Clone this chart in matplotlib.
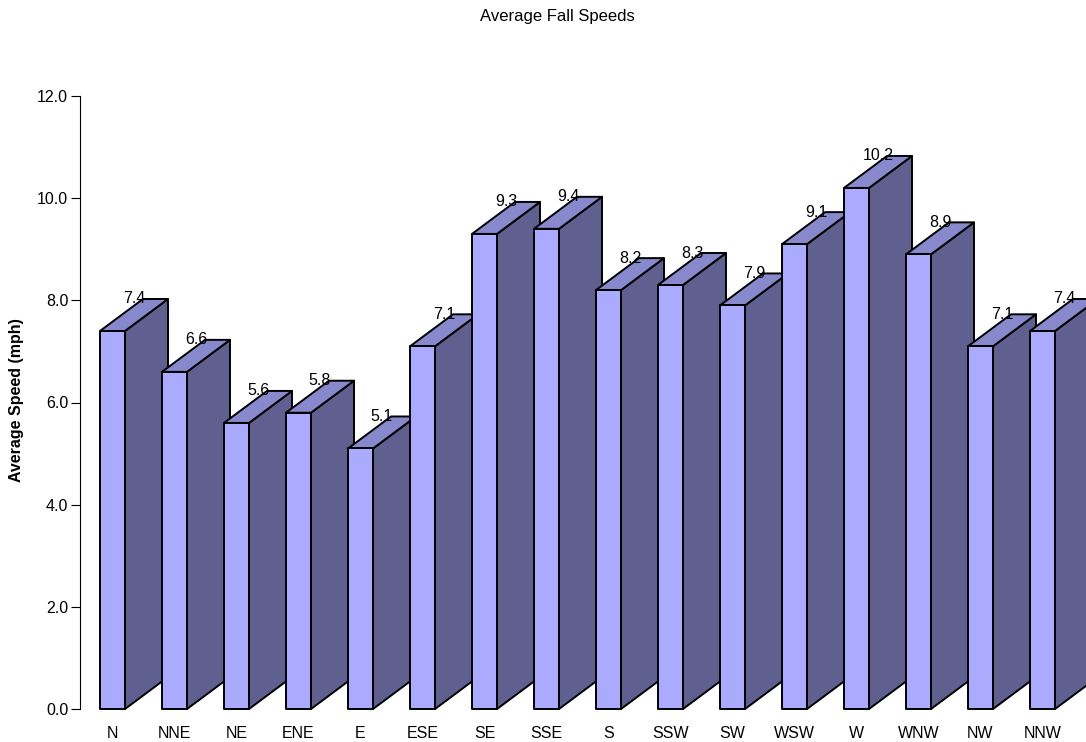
import matplotlib
matplotlib.use('Agg')
import matplotlib.pyplot as plt
from matplotlib.patches import Polygon

plt.rcParams['font.family'] = ['Liberation Sans', 'DejaVu Sans']

directions = ['N', 'NNE', 'NE', 'ENE', 'E', 'ESE', 'SE', 'SSE',
              'S', 'SSW', 'SW', 'WSW', 'W', 'WNW', 'NW', 'NNW']
speeds = [7.4, 6.6, 5.6, 5.8, 5.1, 7.1, 9.3, 9.4,
          8.2, 8.3, 7.9, 9.1, 10.2, 8.9, 7.1, 7.4]
yticks = [0, 2, 4, 6, 8, 10, 12]

W, H = 1086, 742
fig = plt.figure(figsize=(W / 100, H / 100), dpi=100)
# axes in pixel terms: y axis at x=80, 0 at y=709, 12 at y=96
ax = fig.add_axes([80 / W, (H - 709) / H, (W - 80) / W, (709 - 96) / H])

step = 62.0                      # px between categories
ypx = (709 - 96) / 12.0          # px per mph
ax.set_xlim((80 - 112.5) / step, (W - 112.5) / step)
ax.set_ylim(0, 12)

bw = 25 / step                   # front face width
dx = 43 / step                   # depth offset in x
dy = 32 / ypx                    # depth offset in y

front_c = '#aaaaff'
side_c = '#606090'
top_c = '#8888cc'

for i, v in enumerate(speeds):
    x0 = i - bw / 2
    x1 = i + bw / 2
    z = 2 + i
    side = Polygon([(x1, 0), (x1 + dx, dy), (x1 + dx, v + dy), (x1, v)],
                   closed=True, facecolor=side_c, edgecolor='black', lw=1.4,
                   joinstyle='round', clip_on=False, zorder=z)
    top = Polygon([(x0, v), (x1, v), (x1 + dx, v + dy), (x0 + dx, v + dy)],
                  closed=True, facecolor=top_c, edgecolor='black', lw=1.4,
                  joinstyle='round', clip_on=False, zorder=z)
    front = Polygon([(x0, 0), (x1, 0), (x1, v), (x0, v)],
                    closed=True, facecolor=front_c, edgecolor='black', lw=1.4,
                    joinstyle='round', clip_on=False, zorder=z)
    ax.add_patch(side)
    ax.add_patch(top)
    ax.add_patch(front)
    ax.text(i + dx / 2, v + dy, '%.1f' % v, ha='center', va='center',
            fontsize=11.5, color='black', zorder=50, clip_on=False)

ax.set_xticks(range(len(directions)))
ax.set_xticklabels(directions, fontsize=11.5)
ax.tick_params(axis='x', length=0, pad=12)

ax.set_yticks(yticks)
ax.set_yticklabels(['%.1f' % t for t in yticks], fontsize=11.5)
ax.tick_params(axis='y', direction='out', length=6.5, width=0.8, pad=2)

for s in ['top', 'right', 'bottom']:
    ax.spines[s].set_visible(False)
ax.spines['left'].set_linewidth(0.8)
ax.patch.set_visible(False)

fig.text(17 / W, 1 - 400 / H, 'Average Speed (mph)', rotation=90,
         ha='center', va='center', fontsize=11.5, fontweight='bold')
fig.text(557 / W, 1 - 17 / H, 'Average Fall Speeds', ha='center',
         va='center', fontsize=12)

fig.savefig('out.png', dpi=100)
